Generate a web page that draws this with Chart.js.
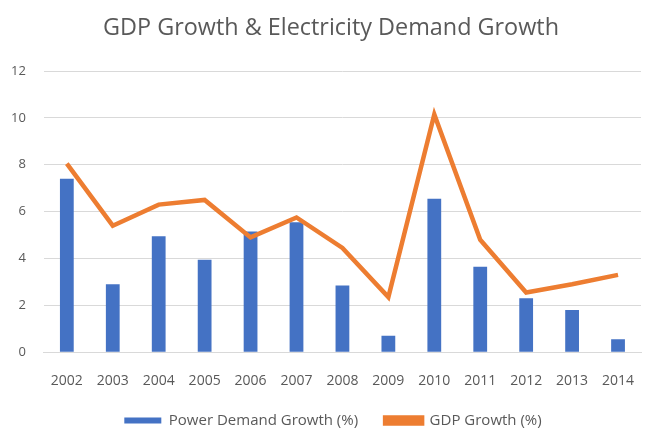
<!DOCTYPE html>
<html><head><meta charset="utf-8">
<script src="https://cdn.jsdelivr.net/npm/chart.js@4/dist/chart.umd.min.js"></script>
<style>html,body{margin:0;padding:0;background:#fff;}#wrap{width:651px;height:437px;}</style>
</head><body><div id="wrap"><canvas id="c" width="651" height="437"></canvas></div>
<script>
const years = ['2002','2003','2004','2005','2006','2007','2008','2009','2010','2011','2012','2013','2014'];
const powerDemandGrowth = [7.4, 2.9, 4.95, 3.95, 5.15, 5.55, 2.85, 0.7, 6.55, 3.65, 2.3, 1.8, 0.55];
const gdpGrowth = [8.05, 5.4, 6.3, 6.5, 4.9, 5.75, 4.45, 2.35, 10.15, 4.8, 2.55, 2.9, 3.3];
const yTicks = [0, 2, 4, 6, 8, 10, 12];

const font = "'Open Sans', 'Liberation Sans', sans-serif";
const blockShift = {
  id: 'blockShift',
  afterLayout(chart) {
    const lg = chart.legend, tb = chart.titleBlock;
    if (lg) { lg.top -= 15; lg.bottom -= 15; lg.left += 16; lg.right += 16; }
    if (tb) { tb.left += 14; tb.right += 14; }
  }
};
new Chart(document.getElementById('c'), {
  data: {
    labels: years,
    datasets: [
      { type: 'line', label: 'GDP Growth (%)', data: gdpGrowth, borderColor: '#ED7D31', backgroundColor: '#ED7D31',
        borderWidth: 4.5, pointRadius: 0, tension: 0, order: 0 },
      { type: 'bar', label: 'Power Demand Growth (%)', data: powerDemandGrowth, backgroundColor: '#4472C4',
        barPercentage: 0.3, categoryPercentage: 1, order: 1 }
    ]
  },
  plugins: [blockShift],
  options: {
    responsive: false, animation: false,
    layout: { padding: { left: -7, right: 10, top: 0, bottom: -16 } },
    plugins: {
      title: { display: true, text: 'GDP Growth & Electricity Demand Growth', color: '#595959',
        font: { family: font, size: 23.4, weight: 'normal' }, padding: { top: 14, bottom: 29 } },
      legend: { position: 'bottom', reverse: true,
        labels: { color: '#595959', boxWidth: 37, boxHeight: 6, font: { family: font, size: 15 }, padding: 27 } },
      tooltip: { enabled: false }
    },
    scales: {
      x: { grid: { display: false }, border: { color: '#d9d9d9' },
        ticks: { color: '#595959', font: { family: font, size: 14 }, padding: 12 } },
      y: { min: 0, max: 12, afterBuildTicks: (a) => { a.ticks = yTicks.map(v => ({ value: v })); },
        grid: { color: '#d9d9d9', drawTicks: false }, border: { display: false },
        ticks: { color: '#595959', font: { family: font, size: 13 }, padding: 18 } }
    }
  }
});
</script></body></html>
